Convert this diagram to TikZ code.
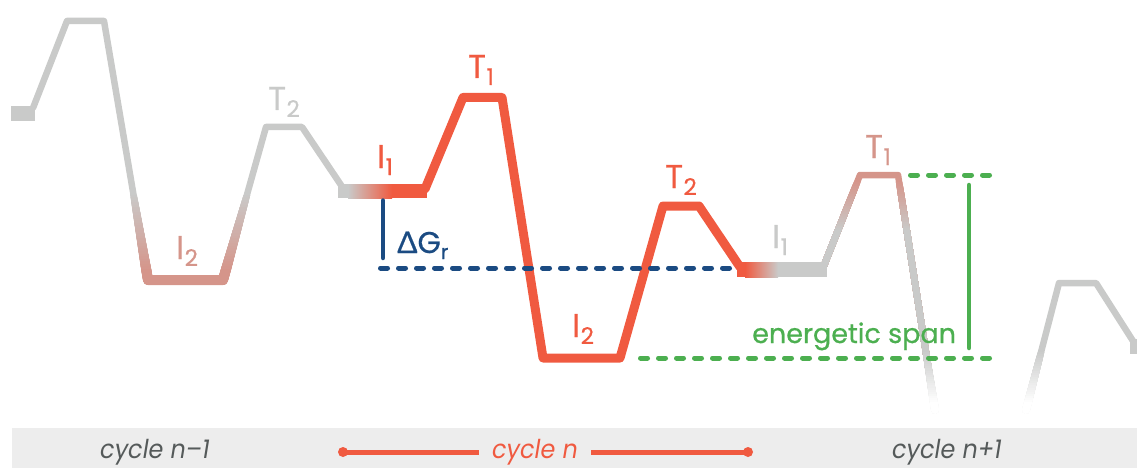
\documentclass[tikz,border=0pt]{standalone}
\usepackage{fontspec}
\setmainfont{Poppins}[FakeBold=0.6]
\newfontfamily\gk{Lato}[FakeBold=0.6]
\newfontfamily\cycfont{Poppins}[FakeStretch=0.92]
\definecolor{cgray}{RGB}{201,202,201}
\definecolor{cred}{RGB}{240,90,64}
\definecolor{cpink}{RGB}{213,149,138}
\definecolor{cnavy}{RGB}{27,75,130}
\definecolor{cgreen}{RGB}{76,175,80}
\definecolor{cband}{RGB}{237,237,237}
\definecolor{ctext}{RGB}{85,90,90}
% gradient bands along y: #1 path, #2 colA, #3 widthA, #4 colB, #5 widthB, #6 y1, #7 y2, #8 steps
\newcommand\gbands[8]{%
  \foreach \i in {1,...,#8}{%
    \pgfmathsetmacro\yy{#6+(#7-#6)*(\i-1)/#8}%
    \pgfmathsetmacro\yfar{#7+1000*sign(#7-#6)}%
    \pgfmathtruncatemacro\pc{100*\i/#8}%
    \pgfmathsetmacro\lw{#3+(#5-#3)*\i/#8}%
    \begin{scope}
      \clip (-50,\yy) rectangle (1200,\yfar);
      \draw[line width=\lw pt, draw=#4!\pc!#2] #1;
    \end{scope}
  }%
}
\newcommand\lab[2]{#1\kern0.5pt\raisebox{-7pt}{\fontsize{23}{23}\selectfont #2}}
\begin{document}
\begin{tikzpicture}[x=1pt,y=-1pt, line join=round, line cap=round,
  lbl/.style={inner sep=0pt, anchor=base, font=\fontsize{33}{33}\selectfont},
  dashline/.style={line width=5pt, line cap=round, dash pattern=on 7pt off 11pt},
  marker/.style={line width=4.5pt, line cap=round},
  cyc/.style={inner sep=0pt, anchor=base, font=\cycfont\itshape\fontsize{26}{26}\selectfont}]
\useasboundingbox (0,0) rectangle (1137,468);
\fill[cband] (12,428) rectangle (1137,468);

% ---------- coordinates ----------
\coordinate (a0) at (33,108);
\coordinate (a1) at (67,21);
\coordinate (a2) at (104,21);
\coordinate (a3) at (148,280);
\coordinate (a4) at (223,280);
\coordinate (a5) at (266,127);
\coordinate (a6) at (302,127);
\coordinate (a7) at (343,188);

\coordinate (r0) at (425,189);
\coordinate (r1) at (463,97.5);
\coordinate (r2) at (502,97.5);
\coordinate (r3) at (543,358);
\coordinate (r4) at (620,358);
\coordinate (r5) at (663,206);
\coordinate (r6) at (699,206);
\coordinate (r7) at (740,267);

\coordinate (b0) at (823,268);
\coordinate (b1) at (860,175);
\coordinate (b2) at (898,175);
\coordinate (b3) at (935,410);

\coordinate (c0) at (1026,410);
\coordinate (c1) at (1059,283);
\coordinate (c2) at (1096,283);
\coordinate (c3) at (1133,341);

% ---------- cycle n-1 ----------
\draw[cgray, line width=6.5pt] (a0) -- (a1) -- (a2) -- (a3) -- (a4) -- (a5) -- (a6) -- (a7);
\gbands{(a0) -- (a1) -- (a2) -- (a3) -- (a4) -- (a5) -- (a6) -- (a7)}{cgray}{6.5}{cpink}{10}{195}{272}{30}
\fill[cgray] (11,106) rectangle (35,121);

% ---------- cycle n ----------
\draw[cred, line width=9pt] (r0) -- (r1) -- (r2) -- (r3) -- (r4) -- (r5) -- (r6) -- (r7);

% I1 bars
\fill[cgray] (338,184) rectangle (348.5,198);
\shade[left color=cgray, right color=cred] (348,184) rectangle (392,198);
\fill[cred] (391.5,184) rectangle (427,198);

% ---------- cycle n+1 ----------
\draw[cpink, line width=6.5pt] (b0) -- (b1) -- (b2) -- (b3);
\gbands{(b0) -- (b1) -- (b2) -- (b3)}{cpink}{6.5}{cgray}{6.5}{182}{232}{25}
\gbands{(b0) -- (b1) -- (b2) -- (b3)}{cgray}{6.5}{white}{8}{352}{405}{25}
\draw[cgray, line width=6.5pt] (c0) -- (c1) -- (c2) -- (c3);
\gbands{(c0) -- (c1) -- (c2) -- (c3)}{cgray}{6.5}{white}{8}{352}{405}{25}
\fill[cgray] (1130,339) rectangle (1137,354);

\fill[cred] (737,262) rectangle (745.5,277);
\shade[left color=cred, right color=cgray] (745,262) rectangle (778,277);
\fill[cgray] (777.5,262) rectangle (827,277);

% ---------- Delta G_r ----------
\coordinate (n0) at (383,200.5);
\coordinate (n1) at (383,258);
\coordinate (n2) at (380.5,268);
\coordinate (n3) at (729.5,268);
\draw[marker, cnavy] (n0) -- (n1);
\draw[dashline, cnavy] (n2) -- (n3);

% ---------- energetic span ----------
\coordinate (g0) at (910.5,175);
\coordinate (g1) at (989.5,175);
\coordinate (g2) at (640.5,358);
\coordinate (g3) at (989.5,358);
\coordinate (g4) at (969,185);
\coordinate (g5) at (969,348);
\draw[dashline, cgreen] (g0) -- (g1);
\draw[dashline, cgreen] (g2) -- (g3);
\draw[marker, cgreen] (g4) -- (g5);

% ---------- labels ----------
\node[lbl, cgray] (lT2) at (284,110) {\lab{T}{2}};
\node[lbl, cpink] (lI2) at (187,259) {\lab{I}{2}};
\node[lbl, cred] (mI1) at (385,168) {\lab{I}{1}};
\node[lbl, cred] (mT1) at (481,78) {\lab{T}{1}};
\node[lbl, cred] (mI2) at (583,337) {\lab{I}{2}};
\node[lbl, cred] (mT2) at (681,188) {\lab{T}{2}};
\node[lbl, cgray] (rI1) at (780,248) {\lab{I}{1}};
\node[lbl, cpink] (rT1) at (878,158) {\lab{T}{1}};

\node[inner sep=0pt, anchor=base west, cnavy, font=\fontsize{30}{30}\selectfont] (dG) at (397,253)
  {{\gk Δ}G\raisebox{-6pt}{\fontsize{20}{20}\selectfont r}};
\node[inner sep=0pt, anchor=base west, cgreen, font=\fontsize{27}{27}\selectfont] (es) at (752,343) {energetic span};

% ---------- cycle labels ----------
\node[cyc, ctext] (cprev) at (155,458) {cycle n–1};
\node[cyc, cred] (ccur) at (535,458) {cycle n};
\node[cyc, ctext] (cnext) at (947,458) {cycle n+1};
\coordinate (t0) at (343,452);
\coordinate (t1) at (479,452);
\coordinate (t2) at (591,452);
\coordinate (t3) at (748,452);
\draw[cred, line width=5pt, line cap=butt] (t0) -- (t1) (t2) -- (t3);
\fill[cred] (t0) circle[radius=5];
\fill[cred] (t3) circle[radius=5];
\end{tikzpicture}
\end{document}
